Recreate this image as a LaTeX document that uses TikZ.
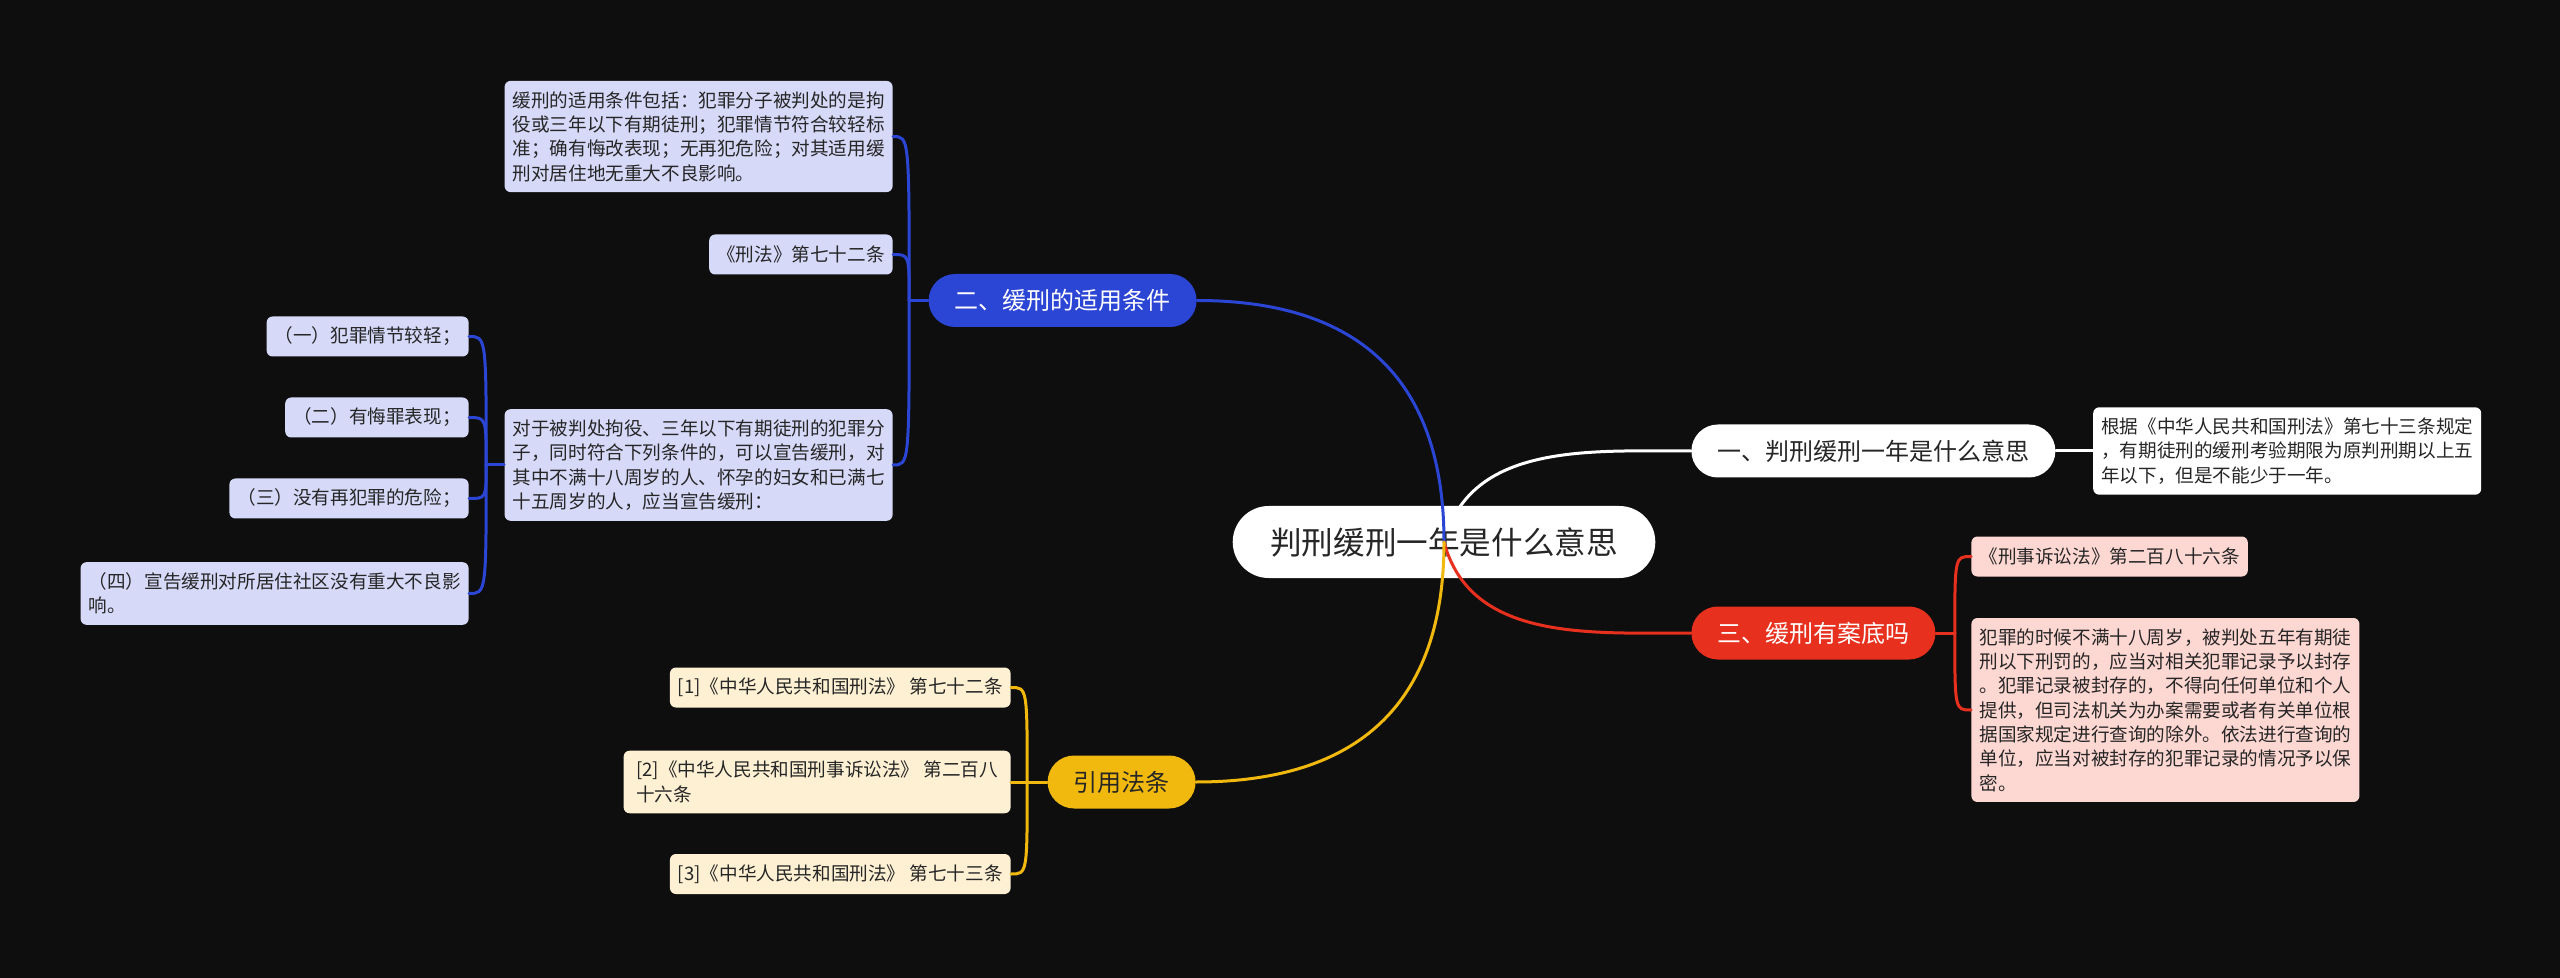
\documentclass[tikz,border=0pt]{standalone}
\usepackage{fontspec}
\newfontfamily\cjk{Noto Sans CJK SC}
\usepackage{tikz}
\usetikzlibrary{positioning, calc, backgrounds}
\definecolor{bgc}{HTML}{0E0E0E}
\definecolor{ink}{HTML}{262626}
\definecolor{bluem}{HTML}{2B45D4}
\definecolor{bluel}{HTML}{D6D9F8}
\definecolor{redm}{HTML}{E8301E}
\definecolor{redl}{HTML}{FDD7D2}
\definecolor{yelm}{HTML}{F1B80E}
\definecolor{yell}{HTML}{FDF0D3}

\begin{document}
\begin{tikzpicture}[x=0.5pt, y=-0.5pt,
  rootnd/.style={fill=white, text=ink, rounded corners=18pt, minimum height=36pt, inner xsep=18.75pt, inner ysep=0pt, font=\cjk\fontsize{15.8}{18}\selectfont},
  branch/.style={rounded corners=13.25pt, minimum height=26.5pt, inner xsep=13pt, inner ysep=0pt, font=\cjk\fontsize{12}{14}\selectfont},
  leaf/.style={rounded corners=3pt, minimum height=20pt, inner xsep=4pt, inner ysep=5.25pt, align=left, text=ink, font=\cjk\fontsize{9.3}{12.15}\selectfont},
  wleaf/.style={leaf, fill=white},
  bleaf/.style={leaf, fill=bluel},
  rleaf/.style={leaf, fill=redl},
  yleaf/.style={leaf, fill=yell},
  link/.style={line width=1.5pt, line cap=round}
]
\node[rootnd] (root) at (1444, 542) {判刑缓刑一年是什么意思};
\node[branch, fill=white, text=ink, anchor=west] (b1) at (1691, 451) {一、判刑缓刑一年是什么意思};
\node[branch, fill=bluem, text=white, anchor=east] (b2) at (1197, 300.5) {二、缓刑的适用条件};
\node[branch, fill=redm, text=white, anchor=west] (b3) at (1691, 633) {三、缓刑有案底吗};
\node[branch, fill=yelm, text=ink, anchor=east] (b4) at (1196, 782) {引用法条};
\node[wleaf, right=18.5pt of b1] (l11) {根据《中华人民共和国刑法》第七十三条规定\\，有期徒刑的缓刑考验期限为原判刑期以上五\\年以下，但是不能少于一年。};
\node[bleaf, anchor=east] (l21) at (893, 136.5) {缓刑的适用条件包括：犯罪分子被判处的是拘\\役或三年以下有期徒刑；犯罪情节符合较轻标\\准；确有悔改表现；无再犯危险；对其适用缓\\刑对居住地无重大不良影响。};
\node[bleaf, anchor=east] (l22) at (893, 254.5) {《刑法》第七十二条};
\node[bleaf, anchor=east] (l23) at (893, 465) {对于被判处拘役、三年以下有期徒刑的犯罪分\\子，同时符合下列条件的，可以宣告缓刑，对\\其中不满十八周岁的人、怀孕的妇女和已满七\\十五周岁的人，应当宣告缓刑：};
\node[bleaf, anchor=east] (s1) at (469, 336.5) {（一）犯罪情节较轻；};
\node[bleaf, anchor=east] (s2) at (469, 417.5) {（二）有悔罪表现；};
\node[bleaf, anchor=east] (s3) at (469, 498.5) {（三）没有再犯罪的危险；};
\node[bleaf, anchor=east] (s4) at (469, 593.5) {（四）宣告缓刑对所居住社区没有重大不良影\\响。};
\node[rleaf, anchor=west] (l31) at (1971, 556.5) {《刑事诉讼法》第二百八十六条};
\node[rleaf, anchor=west] (l32) at (1971, 710) {犯罪的时候不满十八周岁，被判处五年有期徒\\刑以下刑罚的，应当对相关犯罪记录予以封存\\。犯罪记录被封存的，不得向任何单位和个人\\提供，但司法机关为办案需要或者有关单位根\\据国家规定进行查询的除外。依法进行查询的\\单位，应当对被封存的犯罪记录的情况予以保\\密。};
\node[yleaf, anchor=east] (l41) at (1011, 687.5) {[1]《中华人民共和国刑法》 第七十二条};
\node[yleaf, anchor=east, minimum width=193.5pt] (l42) at (1011, 782) {[2]《中华人民共和国刑事诉讼法》 第二百八\\十六条};
\node[yleaf, anchor=east] (l43) at (1011, 874) {[3]《中华人民共和国刑法》 第七十三条};
\draw[link, bluem] (root.center) to[out=90, in=0, looseness=1.2] (b2.east);
\draw[link, redm] (root.center) to[out=-75, in=180] (b3.west);
\draw[link, yelm] (root.center) to[out=-90, in=0, looseness=1.2] (b4.east);
\draw[link, white] (b1) -- (l11);
\draw[link, bluem] (b2.west) -- ++(-19,0) coordinate (t2);
\foreach \n in {l21, l22, l23}
  \draw[link, bluem] (t2) .. controls (t2 |- \n) .. (\n.east);
\draw[link, bluem] (l23.west) -- ++(-18,0) coordinate (t23);
\foreach \n in {s1, s2, s3, s4}
  \draw[link, bluem] (t23) .. controls (t23 |- \n) .. (\n.east);
\draw[link, redm] (b3.east) -- ++(19,0) coordinate (t3);
\foreach \n in {l31, l32}
  \draw[link, redm] (t3) .. controls (t3 |- \n) .. (\n.west);
\draw[link, yelm] (b4.west) -- ++(-20,0) coordinate (t4);
\foreach \n in {l41, l42, l43}
  \draw[link, yelm] (t4) .. controls (t4 |- \n) .. (\n.east);
\begin{scope}[on background layer]
\fill[bgc] (0,0) rectangle (2560,978);
\draw[link, white] (root.center) to[out=75, in=180] (b1.west);
\end{scope}
\end{tikzpicture}
\end{document}
